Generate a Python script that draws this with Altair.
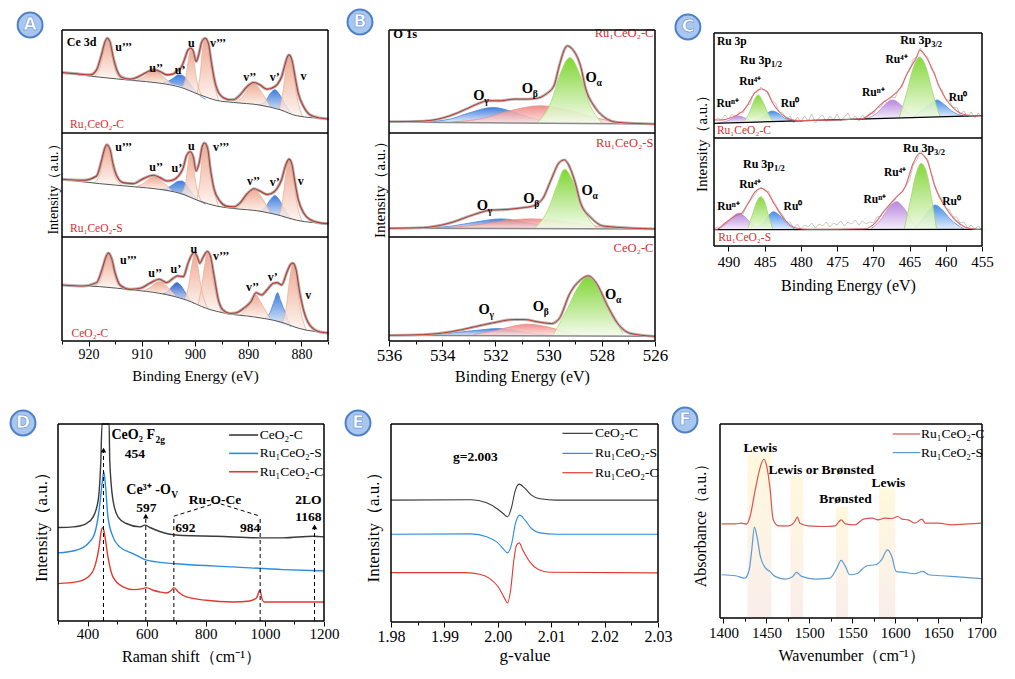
import altair as alt
import pandas as pd

FONT = "Liberation Serif"
CW, CH = 995, 658

# ===================== data =====================
# ---- Panel A : Ce 3d XPS (binding energy eV, intensity a.u.) ----
A1_ENV = [(925.0,182),(922.2,178),(919.7,175),(918.5,190),(917.5,240),(916.9,275),(916.5,285),(916.0,275),(915.4,230),(914.7,190),
          (913.8,168),(912.2,162),(910.3,172),(908.8,185),(907.7,190),(906.6,185),(905.3,175),(904.1,178),(903.3,188),(902.5,200),
          (901.9,225),(901.3,250),(900.8,255),(900.3,245),(899.8,215),(899.4,230),(898.7,275),(898.1,285),(897.5,270),(896.9,210),
          (896.2,150),(895.3,115),(894.1,102),(893.4,100),(892.8,100),(891.5,115),(890.3,138),(889.0,152),(887.8,145),(886.5,132),
          (885.6,135),(884.6,145),(883.7,170),(883.1,205),(882.6,230),(882.3,235),(881.8,220),(881.2,170),(880.6,120),(879.6,80),
          (878.4,55),(876.5,45),(874.9,42)]
A1_BASE = [(925.0,182),(917.9,168),(911.6,158),(906.6,150),(902.8,138),(899.1,115),(895.9,98),(892.8,92),(887.8,84),(884.0,70),(880.9,52),(874.9,43)]
A1_PEAKS = [
    ("u3", "s", [(919.2,168,168),(918.0,190,168),(917.3,238,167),(916.5,283,166),(915.7,238,165),(915.0,190,164),(913.8,163,163)]),
    ("u2", "s", [(911.0,158,158),(909.5,170,156),(908.6,181,155),(907.7,186,154),(906.8,181,152),(905.8,167,151),(904.3,146,146)]),
    ("u1", "b", [(906.0,153,152),(905.0,156,149),(904.0,166,146),(903.2,175,143),(902.5,174,140),(901.7,165,134),(901.0,150,130),(900.0,127,120),(899.0,111,110),(898.0,102,102)]),
    ("u0", "s", [(902.5,137,137),(901.7,170,133),(901.2,225,129),(900.8,250,126),(900.3,225,122),(899.8,170,117),(898.8,112,110)]),
    ("v3", "s", [(899.6,120,118),(899.0,180,113),(898.6,250,110),(898.1,283,107),(897.5,250,103),(896.8,180,99),(895.6,98,97)]),
    ("v2", "s", [(892.5,92,92),(891.0,110,90),(890.0,135,89),(889.0,150,88),(888.0,135,86),(887.0,110,83),(885.8,80,79)]),
    ("v1", "b", [(888.0,85,85),(886.8,95,81),(885.8,120,78),(885.0,130,75),(884.2,118,71),(883.2,90,64),(882.0,60,58)]),
    ("v0", "s", [(884.2,72,72),(883.5,120,67),(882.9,195,62),(882.3,233,58),(881.7,195,54),(881.0,120,50),(879.8,50,48)]),
]
A2_ENV = [(925.0,172),(921.0,169),(918.5,182),(917.5,232),(916.9,267),(916.6,275),(916.0,262),(915.4,217),(914.7,182),(913.5,162),
          (911.6,159),(909.7,174),(907.8,184),(906.6,177),(905.3,167),(904.1,170),(903.1,182),(902.2,207),(901.6,242),(900.9,254),
          (900.3,237),(899.8,197),(899.2,222),(898.6,272),(898.2,280),(897.6,262),(897.1,202),(896.4,142),(895.3,107),(894.1,92),
          (892.8,90),(891.5,102),(890.3,127),(888.9,144),(887.8,137),(886.5,127),(885.6,130),(884.6,144),(883.7,172),(883.1,207),
          (882.6,227),(882.3,232),(881.8,217),(881.2,162),(880.6,112),(879.6,72),(878.4,52),(876.5,42),(874.9,40)]
A2_BASE = [(925.0,172),(917.9,159),(911.6,150),(906.6,142),(902.8,130),(899.1,107),(895.9,92),(892.8,85),(887.8,77),(884.0,64),(880.9,50),(874.9,40)]
A2_PEAKS = [
    ("u3", "s", [(919.2,160,160),(918.0,182,159),(917.3,230,158),(916.6,272,158),(915.8,230,157),(915.1,182,156),(913.8,155,155)]),
    ("u2", "s", [(911.0,150,150),(909.5,162,148),(908.6,174,147),(907.7,180,146),(906.8,174,144),(905.8,160,142),(904.3,138,138)]),
    ("u1", "b", [(906.5,143,142),(905.0,148,139),(904.0,158,136),(903.2,166,133),(902.5,167,129),(901.7,158,124),(901.0,142,119),(900.0,118,112),(899.0,106,105),(898.0,98,98)]),
    ("u0", "s", [(902.5,132,132),(901.7,165,127),(901.3,220,124),(900.9,250,121),(900.4,220,118),(899.9,165,114),(898.8,106,106)]),
    ("v3", "s", [(899.6,115,112),(899.0,175,108),(898.6,245,105),(898.2,278,103),(897.6,245,100),(896.9,175,96),(895.6,92,92)]),
    ("v2", "s", [(892.5,85,85),(891.0,103,83),(890.0,128,82),(888.9,142,80),(887.9,128,78),(886.9,103,75),(885.8,72,72)]),
    ("v1", "b", [(888.0,77,77),(886.8,88,74),(885.8,112,71),(885.0,124,68),(884.2,112,64),(883.2,82,58),(882.0,52,52)]),
    ("v0", "s", [(884.2,65,65),(883.5,112,61),(882.9,190,57),(882.3,228,54),(881.7,190,50),(881.0,112,47),(879.8,45,45)]),
]
A3_ENV = [(925.0,167),(921.0,164),(918.5,174),(917.5,212),(916.7,252),(916.3,262),(915.7,247),(915.0,202),(914.1,167),(912.2,154),
          (910.3,157),(908.5,172),(906.7,184),(905.3,174),(904.1,187),(903.3,194),(902.2,192),(901.3,232),(900.6,257),(900.1,264),
          (899.6,252),(899.1,232),(898.4,252),(897.7,267),(897.1,252),(896.4,192),(895.6,122),(894.7,92),(893.4,82),(892.2,84),
          (890.9,97),(889.5,117),(888.5,144),(887.5,137),(886.5,152),(885.3,172),(884.6,174),(883.7,167),(882.8,202),(882.1,227),
          (881.6,232),(881.0,212),(880.4,152),(879.6,92),(878.4,47),(876.5,27),(874.9,24)]
A3_BASE = [(925.0,167),(917.9,162),(911.6,152),(906.6,142),(901.6,122),(897.8,97),(894.1,82),(889.0,72),(884.0,57),(880.3,37),(874.9,24)]
A3_PEAKS = [
    ("u3", "s", [(919.0,163,163),(917.8,180,162),(917.0,225,161),(916.3,260,160),(915.6,225,159),(914.8,180,157),(913.5,155,155)]),
    ("u2", "s", [(909.7,150,150),(908.4,160,148),(907.5,172,146),(906.7,177,144),(905.8,170,142),(904.8,155,139),(903.6,134,134)]),
    ("u1", "d", [(906.0,141,141),(905.0,150,138),(904.2,165,135),(903.4,174,132),(902.6,164,128),(901.8,144,124),(901.0,125,119),(900.2,112,112)]),
    ("u0", "s", [(902.0,124,124),(901.2,165,119),(900.6,225,116),(900.1,260,113),(899.5,225,109),(898.9,165,105),(897.6,95,95)]),
    ("v3", "s", [(899.4,110,107),(898.7,165,102),(898.2,225,100),(897.7,262,97),(897.1,225,94),(896.4,165,90),(895.0,84,84)]),
    ("v2", "s", [(891.5,78,78),(890.4,95,76),(889.5,120,74),(888.7,140,72),(887.8,120,70),(886.8,92,67),(885.8,64,64)]),
    ("v1", "b", [(886.8,68,68),(885.9,85,64),(885.1,120,60),(884.5,144,57),(883.9,120,53),(883.0,82,47),(882.0,42,42)]),
    ("v0", "s", [(883.6,55,55),(882.8,105,50),(882.2,185,45),(881.6,230,41),(881.0,185,38),(880.3,105,35),(879.0,30,30)]),
]
A_LBL_LEFT = [[("u’’’",915.0,260),("v’’’",897.2,270)],
              [("u’’’",915.0,267),("v’’’",896.6,267)],
              [("u’’’",914.1,242),("v’’’",896.6,252)]]
A_LBL_CENTER = [[("u’’",907.3,195),("u’",902.8,190),("u",900.7,270),("v’’",889.7,170),("v’",885.0,170),("v",879.6,172)],
                [("u’’",907.3,210),("u’",903.4,207),("u",900.7,272),("v’’",889.0,167),("v’",885.0,164),("v",880.1,167)],
                [("u’’",907.5,202),("u’",903.6,214),("u",900.2,274),("v’’",889.2,162),("v’",885.4,192),("v",878.7,137)]]
A_SAMPLES = [("Ru₁CeO₂-C",923.5,24),("Ru₁CeO₂-S",923.5,24),("CeO₂-C",923.2,22)]
A_HEAD = [("Ce 3d",924.1,275)]

# ---- Panel B : O 1s XPS ----
B1_ENV = [(536.0,34),(534.7,36),(533.7,52),(533.1,72),(532.6,90),(532.3,97),(531.8,97),(531.3,102),(530.8,102),(530.4,105),(530.1,117),
          (529.8,142),(529.6,202),(529.4,252),(529.3,262),(529.1,252),(528.8,202),(528.6,132),(528.3,82),(527.9,47),(527.4,32),(526.0,27)]
B1_BASE = [(536.0,33),(526.0,27)]
B1_PEAKS = [
    ("g", "b", [(534.6,34,34),(533.7,42,33),(533.0,60,32),(532.1,77,31),(531.2,60,31),(530.5,42,30),(529.6,31,30)]),
    ("b", "r", [(533.6,33,33),(532.4,45,32),(531.5,66,31),(530.3,82,30),(529.1,66,29),(528.2,45,29),(527.0,29,28)]),
    ("a", "g", [(530.4,33,30),(529.9,95,30),(529.6,170,29),(529.2,227,29),(528.8,170,29),(528.5,95,29),(528.0,31,29)]),
]
B2_ENV = [(536.0,26),(534.7,28),(533.7,42),(532.8,67),(532.2,80),(531.6,82),(531.0,87),(530.6,92),(530.2,117),(529.9,172),(529.6,222),
          (529.4,230),(529.3,222),(529.0,162),(528.8,102),(528.4,57),(527.9,32),(526.0,24)]
B2_BASE = [(536.0,26),(526.0,24)]
B2_PEAKS = [
    ("g", "b", [(534.5,27,27),(533.6,33,26),(532.8,44,26),(531.8,54,25),(530.9,44,25),(530.1,32,25),(529.2,25,25)]),
    ("b", "r", [(534.0,27,27),(532.7,36,26),(531.7,48,25),(530.7,54,25),(529.6,48,25),(528.6,36,24),(527.2,25,24)]),
    ("a", "g", [(530.5,28,25),(530.0,85,25),(529.7,150,25),(529.4,202,25),(529.0,150,24),(528.7,85,24),(528.2,27,24)]),
]
B3_ENV = [(536.0,17),(534.7,19),(533.7,27),(532.8,42),(532.1,54),(531.3,64),(530.9,64),(530.4,57),(529.9,52),(529.6,67),(529.2,142),
          (528.8,182),(528.5,194),(528.2,172),(527.8,107),(527.4,52),(526.9,22),(526.0,14)]
B3_BASE = [(536.0,17),(526.0,14)]
B3_PEAKS = [
    ("g", "b", [(534.8,18,18),(533.8,23,17),(532.8,31,17),(531.9,37,16),(531.2,30,16),(530.6,22,16),(529.8,16,16)]),
    ("b", "r", [(532.8,20,17),(532.0,31,16),(531.4,43,16),(530.8,50,16),(530.1,43,16),(529.5,30,15),(528.8,17,15)]),
    ("a", "g", [(529.8,22,15),(529.3,95,15),(528.9,160,15),(528.5,192,15),(528.1,160,15),(527.7,95,15),(527.2,22,14)]),
]
B_O = [[(532.83,112,"γ"),(531.01,132,"β"),(528.61,167,"α")],
       [(532.70,92,"γ"),(530.95,114,"β"),(528.76,137,"α")],
       [(532.64,92,"γ"),(530.60,100,"β"),(527.88,137,"α")]]
B_SAMPLES = [("Ru₁CeO₂-C",526.06,302),("Ru₁CeO₂-S",526.06,280),("CeO₂-C",526.06,277)]
B_HEAD = [("O 1s",535.84,297)]

# ---- Panel C : Ru 3p XPS ----
C_RAW_X = [492.0,491.5,491.0,490.5,490.0,489.5,489.0,488.5,488.0,487.5,487.0,486.5,486.0,485.5,485.0,484.5,484.0,483.5,483.0,482.5,
           482.0,481.5,481.0,480.5,480.0,479.5,479.0,478.5,478.0,477.5,477.0,476.5,476.0,475.5,475.0,474.5,474.0,473.5,473.0,472.5,
           472.0,471.5,471.0,470.5,470.0,469.5,469.0,468.5,468.0,467.5,467.0,466.5,466.0,465.5,465.0,464.5,464.0,463.5,463.0,462.5,
           462.0,461.5,461.0,460.5,460.0,459.5,459.0,458.5,458.0,457.5,457.0,456.5,456.0,455.5,455.0]
C1_RAW_Y = [17,20,18,23,19,24,21,26,25,33,34,45,46,51,47,46,37,35,26,25,19,22,15,21,16,22,17,24,15,20,23,16,22,18,24,17,21,25,18,22,
            17,23,19,25,24,30,31,37,35,41,40,49,51,63,67,79,81,90,83,81,69,64,51,48,38,38,30,31,24,27,21,26,20,25,21]
C2_RAW_Y = [17,19,18,23,22,27,28,33,32,40,45,50,55,59,55,55,47,42,35,31,24,24,18,22,17,21,19,23,18,22,20,24,19,23,21,25,20,24,22,26,
            21,25,22,24,23,29,30,36,38,43,46,51,54,60,66,81,86,95,89,87,73,61,52,46,38,36,29,29,23,24,18,21,17,20,16]
C1_ENV = [(492.0,18),(491.2,18),(489.3,21.3),(488.6,23.7),(487.5,31.3),(486.6,43),(485.9,48),(485.4,49),(484.7,46.3),(484.0,36.3),
          (483.1,27),(482.2,21.3),(481.1,18),(480.1,17.5),(471.8,19),(470.0,26.3),(468.8,34.7),(467.5,41.3),(466.3,49.7),(465.2,66.3),
          (464.0,81.3),(463.6,88),(462.9,83),(461.7,66.3),(460.8,49.7),(459.9,38),(458.9,29.7),(457.6,23.7),(456.2,22.3),(455.0,22.3)]
C1_BASE = [(492.0,14.7),(455.0,22.3)]
C1_PEAKS = [
    ("n1", "p", [(491.5,15,15),(490.0,17.5,15.1),(488.6,22,15.4),(487.3,18.5,15.7),(486.0,16,16)]),
    ("z1", "b", [(486.5,16.5,16),(485.3,20,16.2),(484.6,25,16.3),(484.0,27,16.5),(483.2,25,16.6),(482.3,20,16.8),(480.8,17,17)]),
    ("f1", "g", [(487.8,17,15.5),(487.0,27,15.7),(486.5,37,15.8),(485.9,43,16),(485.3,37,16.1),(484.7,27,16.3),(483.9,17,16.4)]),
    ("n2", "p", [(471.0,19,19),(469.5,25,19.4),(468.3,34,19.6),(467.3,38,19.8),(466.2,33,20),(465.2,25,20.2),(463.8,20.5,20.5)]),
    ("z2", "b", [(464.5,21,20.4),(463.2,28,20.7),(462.0,35,21),(461.2,38,21.1),(460.3,34,21.3),(459.2,27,21.6),(457.6,22,22)]),
    ("f2", "g", [(466.4,21,20),(465.4,45,20.2),(464.5,70,20.4),(463.6,81,20.6),(462.7,70,20.8),(461.8,45,21),(460.8,21.2,21.2)]),
]
C2_ENV = [(492.0,16.5),(491.6,16.7),(490.5,22.7),(489.1,30),(488.2,32.7),(487.3,42.7),(486.3,54.3),(485.5,57.7),(484.7,54.3),(483.6,41),
          (482.2,26),(480.8,18.3),(479.0,16.7),(471.2,17.3),(469.8,22.7),(468.4,36),(467.0,47.7),(465.6,59.3),(464.5,82.7),(463.6,92.7),
          (462.6,86),(461.5,59.3),(460.1,39.3),(458.7,26),(457.3,18.7),(456.0,16.7),(455.0,16.3)]
C2_BASE = [(492.0,16.3),(455.0,16.7)]
C2_PEAKS = [
    ("n1", "p", [(491.4,17,16.3),(490.2,23,16.3),(489.3,30,16.3),(488.6,32.7,16.3),(487.7,29,16.4),(486.8,22,16.4),(485.5,16.5,16.4)]),
    ("z1", "b", [(486.1,17,16.4),(485.1,24,16.5),(484.4,31,16.5),(483.8,34.3,16.5),(483.0,31,16.5),(482.0,23,16.5),(480.8,16.6,16.6)]),
    ("f1", "g", [(487.3,18,16.4),(486.7,31,16.4),(486.1,44,16.4),(485.6,49.3,16.4),(485.0,44,16.5),(484.5,31,16.5),(483.9,17,16.5)]),
    ("n2", "p", [(470.3,17.5,16.5),(469.0,26,16.5),(467.8,39,16.6),(466.8,44.3,16.6),(465.8,38,16.6),(464.7,25,16.6),(463.4,17,16.6)]),
    ("z2", "b", [(464.3,17.5,16.6),(463.1,28,16.6),(462.2,37,16.7),(461.5,41,16.7),(460.6,37,16.7),(459.4,27,16.7),(457.5,17,16.7)]),
    ("f2", "g", [(465.7,18,16.6),(464.9,45,16.6),(464.1,72,16.6),(463.4,82.7,16.6),(462.6,72,16.6),(461.9,45,16.7),(461.3,18,16.7)]),
]
C_LBL = [[("Ru⁴⁺",487.0,56),("Ruⁿ⁺",490.1,34),("Ru⁰",481.5,34),("Ru⁴⁺",466.8,78),("Ruⁿ⁺",470.0,44.7),("Ru⁰",458.3,39.7)],
         [("Ru⁴⁺",487.0,61),("Ruⁿ⁺",490.0,39),("Ru⁰",481.1,38.7),("Ru⁴⁺",467.0,72.7),("Ruⁿ⁺",469.8,46),("Ru⁰",459.2,44.3)]]
C_3P = [[(488.4,78,"1/2"),(466.3,98,"3/2")],
        [(488.0,82,"1/2"),(465.9,97.7,"3/2")]]
C_HEAD = [("Ru 3p",491.6,96)]
C_SAMPLES = [("Ru₁CeO₂-C",491.6,7),("Ru₁CeO₂-S",491.4,8)]

# ---- Panel D : Raman ----
D_CEO2_C = [(300,280),(351,282),(396,292),(419,312),(436,362),(445,482),(449,600),(455,900),(466,900),(473,600),(475,482),(486,362),
            (503,312),(531,292),(577,282),(594,287),(611,280),(667,262),(723,256),(836,254),(983,249),(1062,249),(1164,254),(1200,252)]
D_RU_S = [(300,204),(362,212),(402,232),(424,262),(439,332),(448,402),(455,447),(461,402),(469,312),(486,252),(509,222),(554,202),
          (594,184),(633,177),(723,170),(893,162),(1062,154),(1200,150)]
D_RU_C = [(300,112),(362,117),(402,132),(424,162),(439,222),(447,272),(452,280),(459,252),(469,192),(486,132),(520,102),(554,94),
          (588,97),(599,100),(622,92),(644,87),(667,84),(684,92),(692,100),(707,87),(735,72),(802,62),(893,57),(949,60),(972,70),
          (983,92),(990,67),(997,57),(1062,57),(1200,57)]
D_MARKS = [(454,512),(597,314),(692,314),(984,314),(1168,282)]
D_BRACKET = [(692,314),(838,354),(984,314)]
D_ARROWS = [(454,512),(597,314),(1168,282)]
D_TEXT = [("454",560,499),("597",599,337),("Ru-O-Ce",831,362),("692",731,280),("984",950,280),("2LO",1147,362),("1168",1147,312)]
D_TEXT_SUB = [("CeO₂ F",481,557,"2g"),("Ce³⁺ -O",531,392,"V")]
D_LEG = [("CeO₂-C",557),("Ru₁CeO₂-S",502),("Ru₁CeO₂-C",447)]
D_LEG_X = (879, 977, 983)

# ---- Panel E : EPR ----
E_CEO2_C = [(1.9800,365),(1.9950,366),(1.9979,357),(1.9998,340),(2.0010,325),(2.0018,315),(2.0026,345),(2.0032,390),(2.0040,413),
            (2.0051,400),(2.0063,380),(2.0079,369),(2.0110,365),(2.0300,365)]
E_RU_S = [(1.9800,263),(1.9950,264),(1.9979,255),(1.9998,240),(2.0010,220),(2.0018,207),(2.0026,235),(2.0033,295),(2.0041,320),
          (2.0051,305),(2.0063,280),(2.0079,267),(2.0110,263),(2.0300,263)]
E_RU_C = [(1.9800,148),(1.9940,148),(1.9966,143),(1.9985,130),(2.0001,105),(2.0013,70),(2.0018,57),(2.0024,95),(2.0030,185),
          (2.0035,230),(2.0040,237),(2.0047,215),(2.0060,180),(2.0076,157),(2.0097,149),(2.0300,147)]
E_TEXT = [("g=2.003",1.9958,495)]
E_LEG = [("CeO₂-C",565),("Ru₁CeO₂-S",505),("Ru₁CeO₂-C",447)]
E_LEG_X = (2.0121, 2.0178, 2.0182)

# ---- Panel F : Py-IR ----
F_RU_C = [(1398,283),(1414,283),(1421,285),(1427,282),(1431,305),(1437,385),(1443,455),(1447,477),(1450,460),(1454,395),(1458,295),
          (1464,277),(1476,277),(1483,290),(1486,303),(1489,285),(1499,277),(1518,275),(1530,277),(1537,295),(1542,283),(1553,280),
          (1563,297),(1573,300),(1580,295),(1588,300),(1596,299),(1603,305),(1608,297),(1615,295),(1623,285),(1631,297),(1635,285),
          (1650,285),(1666,280),(1681,282),(1700,285)]
F_RU_S = [(1398,130),(1414,127),(1425,120),(1430,145),(1433,205),(1436,273),(1439,245),(1443,185),(1449,150),(1454,140),(1460,125),
          (1472,117),(1480,123),(1485,137),(1491,125),(1507,117),(1524,120),(1532,150),(1537,173),(1542,155),(1547,130),(1555,133),
          (1567,157),(1577,160),(1584,175),(1591,205),(1596,185),(1601,140),(1611,137),(1623,133),(1632,140),(1639,130),(1654,127),
          (1677,123),(1700,118)]
F_BANDS = [(1428,1456,495),(1478,1493,425),(1531,1545,335),(1581,1600,390)]
F_TEXT = [("Lewis",1443,510),("Lewis or Brønsted",1514,445),("Brønsted",1542,357),("Lewis",1592,407)]
F_LEG = [("Ru₁CeO₂-C",553),("Ru₁CeO₂-S",497)]
F_LEG_X = (1597, 1629, 1630)

# ===================== styles =====================
RED_ENV = "#c0392b"
GRAY_PTS = "#b3b3b3"
SAMPLE_RED = "#d32f2f"
FILLS = {
    "s": ("#ec9578", "#fdf3ee", "#eab09c"),
    "b": ("#2a6fd8", "#e6effc", "#4a86e0"),
    "d": ("#1b55c4", "#dfe9fb", "#3a74d8"),
    "r": ("#ee7b78", "#fde3e2", "#e88f8c"),
    "g": ("#72d11f", "#f4fbec", "#a5dd6a"),
}
C_FILLS = {"p": ("#b07ad8", "#f5edfb", "#b58ad8"), "b": ("#2f80e6", "#e3eefc", "#4b90e6"), "g": ("#7ad32a", "#f1fae6", "#9fd86a")}
SERIES_COL = {"CeO₂-C": "#3a3a3a", "Ru₁CeO₂-S": "#2d8be0", "Ru₁CeO₂-C": "#e0392e"}
F_COL = {"Ru₁CeO₂-C": "#d9534f", "Ru₁CeO₂-S": "#5b9bd5"}


# ===================== helpers =====================
def lin(domain, rng, clamp=False):
    return alt.Scale(domain=list(domain), range=list(rng), nice=False, zero=False, clamp=clamp)


def grad(top, bottom):
    return alt.Gradient(gradient="linear",
                        stops=[alt.GradientStop(color=top, offset=0), alt.GradientStop(color=bottom, offset=1)],
                        x1=0, x2=0, y1=0, y2=1)


def line(pairs, xs, ys, color, width, interp="monotone", dash=None, opacity=1.0):
    df = pd.DataFrame(pairs, columns=["x", "y"])
    kw = dict(color=color, strokeWidth=width, interpolate=interp, opacity=opacity)
    if dash:
        kw["strokeDash"] = dash
    return alt.Chart(df).mark_line(**kw).encode(
        x=alt.X("x:Q", scale=xs, axis=None), y=alt.Y("y:Q", scale=ys, axis=None))


def areas(peaks, kind, xs, ys, fills, opacity=0.9):
    top, bottom, edge = fills[kind]
    rows = [{"c": n, "x": x, "top": t, "base": b} for n, k, pts in peaks if k == kind for x, t, b in pts]
    return alt.Chart(pd.DataFrame(rows)).mark_area(
        color=grad(top, bottom), interpolate="monotone", opacity=opacity,
        line={"color": edge, "strokeWidth": 0.8}).encode(
        x=alt.X("x:Q", scale=xs, axis=None),
        y=alt.Y("top:Q", scale=ys, axis=None, stack=None),
        y2="base:Q", detail="c:N")


def texts(rows, xs, ys, size, weight="bold", color="black", align="center", dx=0, dy=0):
    df = pd.DataFrame([r[:3] for r in rows], columns=["t", "x", "y"])
    return alt.Chart(df).mark_text(font=FONT, fontSize=size, fontWeight=weight, color=color,
                                   align=align, baseline="middle", dx=dx, dy=dy).encode(
        x=alt.X("x:Q", scale=xs, axis=None), y=alt.Y("y:Q", scale=ys, axis=None), text="t:N")


def frame(x0, x1, y0, y1, xs, ys, xaxis=None, yaxis=None):
    df = pd.DataFrame({"x": [x0], "x2": [x1], "y": [y0], "y2": [y1]})
    return alt.Chart(df).mark_rect(filled=False, color="black", strokeWidth=1).encode(
        x=alt.X("x:Q", scale=xs, axis=xaxis), x2="x2:Q",
        y=alt.Y("y:Q", scale=ys, axis=yaxis), y2="y2:Q")


def main_xaxis(values, fmt, ybot, lfs, tfs, lpad, tpad, title):
    return alt.Axis(orient="bottom", offset=ybot - CH, values=values, format=fmt,
                    labelFont=FONT, labelFontSize=lfs, labelColor="black", labelPadding=lpad,
                    labelFlush=False, labelOverlap=False, tickSize=5, tickColor="black", tickWidth=1,
                    domain=False, grid=False, title=title, titleFont=FONT, titleFontSize=tfs,
                    titleFontWeight="normal", titleColor="black", titlePadding=tpad)


def minor_xaxis(values, ybot):
    return alt.Axis(orient="bottom", offset=ybot - CH, values=values, labels=False, tickSize=3,
                    tickColor="black", tickWidth=1, domain=False, grid=False, title=None)


def ytitle(title, xleft, fs, tpad):
    return alt.Axis(orient="left", offset=-xleft, labels=False, ticks=False, domain=True, domainOpacity=0,
                    grid=False, title=title, titleFont=FONT, titleFontSize=fs, titleFontWeight="normal",
                    titleColor="black", titlePadding=tpad)


def badge(letter, x, y, xs, ys):
    df = pd.DataFrame({"x": [x], "y": [y], "t": [letter]})
    enc = dict(x=alt.X("x:Q", scale=xs, axis=None), y=alt.Y("y:Q", scale=ys, axis=None))
    c = alt.Chart(df).mark_point(shape="circle", size=620, filled=True, fill="#a9c7ee", stroke="#4d80c9",
                                 strokeWidth=2, opacity=1).encode(**enc)
    t = alt.Chart(df).mark_text(font="DejaVu Sans", fontSize=17, fontWeight="bold", color="white",
                                stroke="#4d80c9", strokeWidth=0.5, baseline="middle", align="center").encode(
        text="t:N", **enc)
    return [c, t]


def rules_h(rows, x0, x1, xs, ys, colors, width):
    out = []
    for label, y in rows:
        df = pd.DataFrame({"x": [x0], "x2": [x1], "y": [y]})
        out.append(alt.Chart(df).mark_rule(color=colors[label], strokeWidth=width).encode(
            x=alt.X("x:Q", scale=xs, axis=None), x2="x2:Q", y=alt.Y("y:Q", scale=ys, axis=None)))
    return out


layers = []

# ===================== Panel A =====================
AX = lin([925, 875], [54, 320])
AY = [lin([0, 310], [125, 22]), lin([0, 310], [229, 125]), lin([0, 310], [333, 229])]
AP = lin([0, 1], [333, 22])
for i, (env, base, peaks) in enumerate([(A1_ENV, A1_BASE, A1_PEAKS), (A2_ENV, A2_BASE, A2_PEAKS), (A3_ENV, A3_BASE, A3_PEAKS)]):
    ys = AY[i]
    blue_kind = "d" if i == 2 else "b"
    sub = [areas(peaks, blue_kind, AX, ys, FILLS)]
    if i == 2:
        sub.append(areas(peaks, "b", AX, ys, FILLS))
    sub += [areas(peaks, "s", AX, ys, FILLS, 0.8),
            line(base, AX, ys, "#555555", 1.0),
            line(env, AX, ys, GRAY_PTS, 3.0), line(env, AX, ys, RED_ENV, 1.1),
            texts(A_LBL_LEFT[i], AX, ys, 12, align="left"),
            texts(A_LBL_CENTER[i], AX, ys, 12),
            texts([A_SAMPLES[i]], AX, ys, 11.5, weight="normal", color=SAMPLE_RED, align="left"),
            frame(925, 875, 0, 310, AX, ys,
                  xaxis=minor_xaxis([925, 915, 905, 895, 885, 875], 333) if i == 2 else None)]
    layers += sub
layers.append(texts(A_HEAD, AX, AY[0], 12, align="left"))
layers.append(frame(925, 875, 0, 1, AX, AP,
                    xaxis=main_xaxis([920, 910, 900, 890, 880], "d", 333, 14, 15, 1, 7, "Binding Energy (eV)"),
                    yaxis=ytitle("Intensity（a.u.）", 54, 14, 2)))
layers += badge("A", 931.0, 325, AX, AY[0])

# ===================== Panel B =====================
BX = lin([536, 526], [381, 647])
BP = lin([0, 1], [333, 22])
for i, (env, base, peaks) in enumerate([(B1_ENV, B1_BASE, B1_PEAKS), (B2_ENV, B2_BASE, B2_PEAKS), (B3_ENV, B3_BASE, B3_PEAKS)]):
    ys = AY[i]
    layers += [areas(peaks, "b", BX, ys, FILLS), areas(peaks, "r", BX, ys, FILLS, 0.85),
               areas(peaks, "g", BX, ys, FILLS, 0.9),
               line(base, BX, ys, "#8a8a8a", 1.5, interp="linear"),
               line(env, BX, ys, GRAY_PTS, 2.8), line(env, BX, ys, RED_ENV, 1.0),
               texts([("O", x, y) for x, y, s in B_O[i]], BX, ys, 14.5, align="left"),
               texts([(s, x, y) for x, y, s in B_O[i]], BX, ys, 9.5, align="left", dx=11, dy=5),
               texts([B_SAMPLES[i]], BX, ys, 12.5, weight="normal", color=SAMPLE_RED, align="right"),
               frame(536, 526, 0, 310, BX, ys,
                     xaxis=minor_xaxis([535, 533, 531, 529, 527], 333) if i == 2 else None)]
layers.append(texts(B_HEAD, BX, AY[0], 12.5, align="left"))
layers.append(frame(536, 526, 0, 1, BX, BP,
                    xaxis=main_xaxis([536, 534, 532, 530, 528, 526], "d", 333, 17, 16, 1, 5, "Binding Energy (eV)"),
                    yaxis=ytitle("Intensity（a.u.）", 381, 15, 2)))
layers += badge("B", 537.09, 334, BX, AY[0])

# ===================== Panel C =====================
CX = lin([492, 455], [706, 974])
CY = [lin([0, 105], [130, 25]), lin([0, 108], [238, 130])]
CP = lin([0, 1], [238, 25])
for i, (raw, env, base, peaks) in enumerate([(C1_RAW_Y, C1_ENV, C1_BASE, C1_PEAKS), (C2_RAW_Y, C2_ENV, C2_BASE, C2_PEAKS)]):
    ys = CY[i]
    layers += [line(list(zip(C_RAW_X, raw)), CX, ys, "#b8b8b8", 0.8, interp="linear"),
               areas(peaks, "p", CX, ys, C_FILLS), areas(peaks, "b", CX, ys, C_FILLS),
               areas(peaks, "g", CX, ys, C_FILLS),
               line(base, CX, ys, "black", 1.3, interp="linear"),
               line(env, CX, ys, "#e06666", 1.1),
               texts(C_LBL[i], CX, ys, 11.5),
               texts([("Ru 3p", x, y) for x, y, s in C_3P[i]], CX, ys, 12, align="left"),
               texts([(s, x, y) for x, y, s in C_3P[i]], CX, ys, 8.5, align="left", dx=31, dy=4),
               texts([C_SAMPLES[i]], CX, ys, 11.5, weight="normal", color=SAMPLE_RED, align="left"),
               frame(492, 455, 0, 105 if i == 0 else 108, CX, ys)]
layers.append(texts(C_HEAD, CX, CY[0], 11.5, align="left"))
layers.append(frame(492, 455, 0, 1, CX, CP,
                    xaxis=main_xaxis([490, 485, 480, 475, 470, 465, 460, 455], "d", 238, 15, 16, 3, 8, "Binding Energy (eV)"),
                    yaxis=ytitle("Intensity（a.u.）", 706, 15, 5)))
layers += badge("C", 495.6, 111, CX, CY[0])

# ===================== Panel D =====================
DX = lin([300, 1200], [50, 316])
DY = lin([0, 590], [613, 416])
DYC = lin([0, 590], [613, 416], clamp=True)
layers += [line(D_CEO2_C, DX, DYC, SERIES_COL["CeO₂-C"], 1.4),
           line(D_RU_S, DX, DYC, SERIES_COL["Ru₁CeO₂-S"], 1.4),
           line(D_RU_C, DX, DYC, SERIES_COL["Ru₁CeO₂-C"], 1.4)]
dm = pd.DataFrame(D_MARKS, columns=["x", "y1"]).assign(y0=0)
layers.append(alt.Chart(dm).mark_rule(color="black", strokeWidth=1, strokeDash=[4, 3]).encode(
    x=alt.X("x:Q", scale=DX, axis=None), y=alt.Y("y0:Q", scale=DY, axis=None), y2="y1:Q"))
layers.append(line(D_BRACKET, DX, DY, "black", 1, interp="linear", dash=[4, 3]))
layers.append(alt.Chart(pd.DataFrame(D_ARROWS, columns=["x", "y"])).mark_point(
    shape="triangle-up", filled=True, size=30, color="black", opacity=1).encode(
    x=alt.X("x:Q", scale=DX, axis=None), y=alt.Y("y:Q", scale=DY, axis=None)))
layers.append(texts(D_TEXT, DX, DY, 13.5))
layers.append(texts([r[:3] for r in D_TEXT_SUB[:1]], DX, DY, 14, align="left"))
layers.append(texts([(D_TEXT_SUB[0][3], D_TEXT_SUB[0][1], D_TEXT_SUB[0][2])], DX, DY, 9.5, align="left", dx=44, dy=5))
layers.append(texts([r[:3] for r in D_TEXT_SUB[1:]], DX, DY, 14, align="left"))
layers.append(texts([(D_TEXT_SUB[1][3], D_TEXT_SUB[1][1], D_TEXT_SUB[1][2])], DX, DY, 9.5, align="left", dx=45, dy=5))
layers += rules_h(D_LEG, D_LEG_X[0], D_LEG_X[1], DX, DY, SERIES_COL, 1.6)
layers.append(texts([(t, D_LEG_X[2], y) for t, y in D_LEG], DX, DY, 13.5, weight="normal", align="left"))
layers.append(frame(300, 1200, 0, 590, DX, DY,
                    xaxis=main_xaxis([400, 600, 800, 1000, 1200], "d", 613, 15, 16, 0, 7, "Raman shift（cm⁻¹）"),
                    yaxis=ytitle("Intensity（a.u.）", 50, 17, 8)))
layers.append(frame(300, 1200, 0, 590, DX, DY, xaxis=minor_xaxis([300, 500, 700, 900, 1100], 613)))
layers += badge("D", 181.6, 593, DX, DY)

# ===================== Panel E =====================
EX = lin([1.98, 2.03], [383, 650])
EY = lin([0, 593], [614, 416])
layers += [line(E_CEO2_C, EX, EY, SERIES_COL["CeO₂-C"], 1.1),
           line(E_RU_S, EX, EY, SERIES_COL["Ru₁CeO₂-S"], 1.1),
           line(E_RU_C, EX, EY, SERIES_COL["Ru₁CeO₂-C"], 1.1)]
layers.append(texts(E_TEXT, EX, EY, 13.5))
layers += rules_h(E_LEG, E_LEG_X[0], E_LEG_X[1], EX, EY, SERIES_COL, 1.2)
layers.append(texts([(t, E_LEG_X[2], y) for t, y in E_LEG], EX, EY, 13.5, weight="normal", align="left"))
layers.append(frame(1.98, 2.03, 0, 593, EX, EY,
                    xaxis=main_xaxis([1.98, 1.99, 2.00, 2.01, 2.02, 2.03], ".2f", 614, 16, 17, 1, 3, "g-value"),
                    yaxis=ytitle("Intensity（a.u.）", 383, 17, 9)))
layers.append(frame(1.98, 2.03, 0, 593, EX, EY, xaxis=minor_xaxis([1.985, 1.995, 2.005, 2.015, 2.025], 614)))
layers += badge("E", 1.97382, 596, EX, EY)

# ===================== Panel F =====================
FX = lin([1396, 1701], [712, 974])
FY = lin([0, 583], [610, 416])
fb = pd.DataFrame(F_BANDS, columns=["x", "x2", "y2"]).assign(y=0)
layers.append(alt.Chart(fb).mark_rect(color=grad("#fff6cf", "#f8e6e2"), opacity=0.7).encode(
    x=alt.X("x:Q", scale=FX, axis=None), x2="x2:Q", y=alt.Y("y:Q", scale=FY, axis=None), y2="y2:Q"))
layers += [line(F_RU_C, FX, FY, F_COL["Ru₁CeO₂-C"], 1.2),
           line(F_RU_S, FX, FY, F_COL["Ru₁CeO₂-S"], 1.2)]
layers.append(texts(F_TEXT, FX, FY, 13.5))
layers += rules_h(F_LEG, F_LEG_X[0], F_LEG_X[1], FX, FY, F_COL, 1.2)
layers.append(texts([(t, F_LEG_X[2], y) for t, y in F_LEG], FX, FY, 13.5, weight="normal", align="left"))
layers.append(frame(1396, 1701, 0, 583, FX, FY,
                    xaxis=main_xaxis([1400, 1450, 1500, 1550, 1600, 1650, 1700], "d", 610, 15, 16, 2, 7, "Wavenumber（cm⁻¹）"),
                    yaxis=ytitle("Absorbance（a.u.）", 712, 16, 12)))
layers.append(frame(1396, 1701, 0, 583, FX, FY, xaxis=minor_xaxis([1425, 1475, 1525, 1575, 1625, 1675], 610)))
layers += badge("F", 1355.3, 595, FX, FY)

chart = alt.layer(*layers).resolve_scale(x="independent", y="independent").properties(
    width=CW, height=CH, padding=0, autosize=alt.AutoSizeParams(type="none"), background="white"
).configure(font=FONT).configure_axis(labelFont=FONT, titleFont=FONT).configure_view(strokeWidth=0)

chart.save("out.html", embed_options={"renderer": "svg", "actions": False})
